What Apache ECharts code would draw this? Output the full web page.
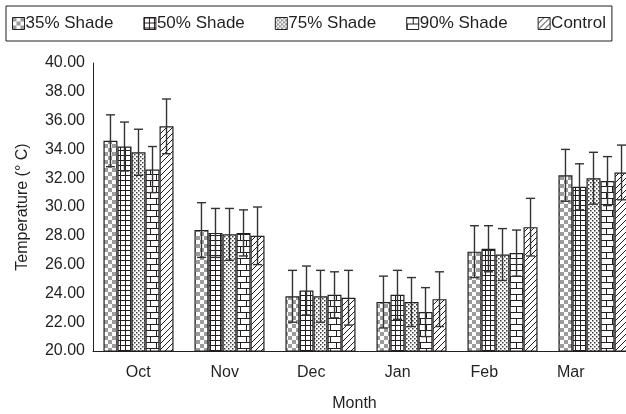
<!DOCTYPE html>
<html>
<head>
<meta charset="utf-8">
<script src="https://cdn.jsdelivr.net/npm/echarts@6/dist/echarts.min.js"></script>
<style>
  html, body { margin: 0; padding: 0; background: #fff; }
  #chart { width: 626px; height: 414px; }
</style>
</head>
<body>
<div id="chart"></div>
<script>
// Monthly mean temperature under different shade levels (± error)
const months = ['Oct', 'Nov', 'Dec', 'Jan', 'Feb', 'Mar'];
const seriesNames = ['35% Shade', '50% Shade', '75% Shade', '90% Shade', 'Control'];

const shade35 = [34.6, 28.4, 23.8, 23.4, 26.9, 32.2];
const shade35Err = [1.8, 1.9, 1.8, 1.8, 1.8, 1.8];
const shade50 = [34.2, 28.2, 24.2, 23.9, 27.1, 31.4];
const shade50Err = [1.7, 1.7, 1.7, 1.7, 1.6, 1.6];
const shade75 = [33.8, 28.1, 23.8, 23.4, 26.7, 32.0];
const shade75Err = [1.6, 1.8, 1.8, 1.7, 1.8, 1.8];
const shade90 = [32.6, 28.2, 23.9, 22.7, 26.8, 31.8];
const shade90Err = [1.6, 1.6, 1.6, 1.7, 1.6, 1.7];
const control = [35.6, 28.0, 23.7, 23.6, 28.6, 32.4];
const controlErr = [1.9, 2.0, 1.9, 1.9, 2.0, 1.9];

const yTicks = [20, 22, 24, 26, 28, 30, 32, 34, 36, 38, 40];

const means = [shade35, shade50, shade75, shade90, control];
const errors = [shade35Err, shade50Err, shade75Err, shade90Err, controlErr];

const INK = '#231f20';
const FONT = '"Liberation Sans", Arial, sans-serif';
const CATEGORY_GAP = 0.23;

// ---- fill patterns -------------------------------------------------------
function tile(w, h, draw) {
  const c = document.createElement('canvas');
  c.width = w; c.height = h;
  const ctx = c.getContext('2d');
  ctx.fillStyle = '#fff';
  ctx.fillRect(0, 0, w, h);
  draw(ctx, w, h);
  return c;
}

const checker = tile(8, 8, (ctx) => {
  ctx.fillStyle = '#9c9c9c';
  ctx.fillRect(0, 0, 4, 4);
  ctx.fillRect(4, 4, 4, 4);
});

const gridFill = tile(5, 5, (ctx) => {
  ctx.fillStyle = INK;
  ctx.fillRect(0, 0, 5, 1);
  ctx.fillRect(0, 0, 1, 5);
});

const dots = tile(4, 4, (ctx) => {
  ctx.fillStyle = '#3a3a3a';
  ctx.fillRect(0, 0, 1.5, 1.5);
  ctx.fillRect(2, 2, 1.5, 1.5);
});

const brick = tile(12, 12, (ctx) => {
  ctx.fillStyle = INK;
  ctx.fillRect(0, 0, 12, 1);
  ctx.fillRect(0, 6, 12, 1);
  ctx.fillRect(6, 0, 1, 6);
  ctx.fillRect(0, 6, 1, 6);
});

const hatch = tile(6, 6, (ctx) => {
  ctx.strokeStyle = INK;
  ctx.lineWidth = 1;
  ctx.beginPath();
  ctx.moveTo(-1, 7); ctx.lineTo(7, -1);
  ctx.moveTo(-1, 1); ctx.lineTo(1, -1);
  ctx.moveTo(5, 7); ctx.lineTo(7, 5);
  ctx.stroke();
});

const fills = [checker, gridFill, dots, brick, hatch];

// ---- series --------------------------------------------------------------
const barSeries = seriesNames.map((name, i) => ({
  name: name,
  type: 'bar',
  xAxisIndex: 0,
  yAxisIndex: 0,
  barGap: 0,
  barCategoryGap: (CATEGORY_GAP * 100) + '%',
  data: means[i],
  itemStyle: {
    color: { image: fills[i], repeat: 'repeat' },
    borderColor: INK,
    borderWidth: 1.2
  },
  emphasis: { disabled: true }
}));

const errorSeries = seriesNames.map((name, i) => ({
  type: 'custom',
  xAxisIndex: 0,
  yAxisIndex: 0,
  z: 10,
  silent: true,
  encode: { x: 0, y: 1 },
  data: months.map((m, j) => [j, means[i][j], errors[i][j]]),
  renderItem: function (params, api) {
    const band = api.size([1, 0])[0];
    const barW = band * (1 - CATEGORY_GAP) / seriesNames.length;
    const cat = api.value(0);
    const mean = api.value(1);
    const err = api.value(2);
    const x = api.coord([cat, mean])[0] + (i - (seriesNames.length - 1) / 2) * barW;
    const yTop = api.coord([cat, mean + err])[1];
    const yBot = api.coord([cat, mean - err])[1];
    const cap = 4.5;
    const style = { stroke: '#333', lineWidth: 1.4 };
    return {
      type: 'group',
      children: [
        { type: 'line', shape: { x1: x, y1: yTop, x2: x, y2: yBot }, style: style },
        { type: 'line', shape: { x1: x - cap, y1: yTop, x2: x + cap, y2: yTop }, style: style },
        { type: 'line', shape: { x1: x - cap, y1: yBot, x2: x + cap, y2: yBot }, style: style }
      ]
    };
  }
}));

const chart = echarts.init(document.getElementById('chart'), null, { renderer: 'canvas' });

chart.setOption({
  animation: false,
  backgroundColor: '#fff',
  textStyle: { fontFamily: FONT, color: INK },
  legend: {
    data: seriesNames,
    icon: 'rect',
    left: 6,
    top: 6,
    padding: [9, 6, 9, 6],
    itemGap: 30,
    itemWidth: 12,
    itemHeight: 12,
    borderColor: INK,
    borderWidth: 1,
    selectedMode: false,
    itemStyle: { borderColor: INK, borderWidth: 1 },
    textStyle: { fontSize: 17, color: INK, fontFamily: FONT, padding: [0, 0, 0, -4] }
  },
  grid: [
    { left: 93, top: 63, width: 546, height: 288, containLabel: false, outerBoundsMode: 'none' },
    { left: 95, top: 63, width: 519, height: 288, containLabel: false, outerBoundsMode: 'none' }
  ],
  xAxis: [
    {
      type: 'category',
      gridIndex: 0,
      data: months,
      axisLine: { show: true, lineStyle: { color: INK, width: 1 } },
      axisTick: { show: false },
      axisLabel: { show: false }
    },
    {
      type: 'category',
      gridIndex: 1,
      data: months,
      axisLine: { show: false },
      axisTick: { show: false },
      axisLabel: { fontSize: 16, color: INK, fontFamily: FONT, margin: 14 },
      name: 'Month',
      nameLocation: 'middle',
      nameGap: 45,
      nameTextStyle: { fontSize: 16, color: INK, fontFamily: FONT }
    }
  ],
  yAxis: [
    {
      type: 'value',
      gridIndex: 0,
      min: yTicks[0],
      max: yTicks[yTicks.length - 1],
      interval: yTicks[1] - yTicks[0],
      axisLine: { show: true, lineStyle: { color: INK, width: 1 } },
      axisTick: { show: false },
      splitLine: { show: false },
      axisLabel: {
        fontSize: 16, color: INK, fontFamily: FONT, margin: 8,
        formatter: (v) => v.toFixed(2)
      },
      name: 'Temperature (° C)',
      nameLocation: 'middle',
      nameGap: 62,
      nameTextStyle: { fontSize: 16, color: INK, fontFamily: FONT }
    },
    {
      type: 'value',
      gridIndex: 1,
      min: yTicks[0],
      max: yTicks[yTicks.length - 1],
      show: false
    },
    {
      // end ticks at the top and bottom of the value axis
      type: 'value',
      gridIndex: 0,
      min: yTicks[0],
      max: yTicks[yTicks.length - 1],
      interval: yTicks[yTicks.length - 1] - yTicks[0],
      axisLine: { show: false },
      axisTick: { show: true, length: 6, lineStyle: { color: INK, width: 1 } },
      axisLabel: { show: false },
      splitLine: { show: false }
    }
  ],
  series: barSeries.concat(errorSeries)
});
</script>
</body>
</html>
